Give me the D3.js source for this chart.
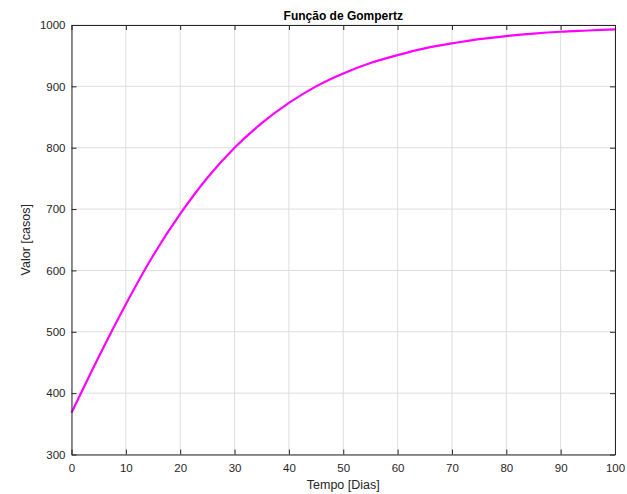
<!DOCTYPE html>
<html>
<head>
<meta charset="utf-8">
<script src="https://cdn.jsdelivr.net/npm/d3@7"></script>
<style>
  html, body { margin: 0; padding: 0; background: #fff; }
  svg { display: block; font-family: "Liberation Sans", Arial, Helvetica, sans-serif; }
</style>
</head>
<body>
<svg id="chart" width="627" height="494"></svg>
<script>
// Gompertz curve sampled every 5 days
const days = [0, 5, 10, 15, 20, 25, 30, 35, 40, 45, 50, 55, 60, 65, 70, 75, 80, 85, 90, 95, 100];
const cases = [368, 459, 545, 624, 692, 751, 800, 840, 873, 900, 921, 938, 951, 962, 970, 977, 982, 986, 989, 991, 993];
const xTicks = [0, 10, 20, 30, 40, 50, 60, 70, 80, 90, 100];
const yTicks = [300, 400, 500, 600, 700, 800, 900, 1000];

const svg = d3.select("#chart");
const m = { left: 71.5, right: 615, top: 25, bottom: 454.5 };
const x = d3.scaleLinear().domain([0, 100]).range([m.left, m.right]);
const y = d3.scaleLinear().domain([300, 1000]).range([m.bottom, m.top]);
const axisColor = "#262626";
const tickLen = 5;

// grid
const grid = svg.append("g");
grid.selectAll(".gx").data(xTicks).join("line")
  .attr("x1", d => x(d)).attr("x2", d => x(d))
  .attr("y1", m.top).attr("y2", m.bottom)
  .attr("stroke", "#dedede").attr("stroke-width", 1);
grid.selectAll(".gy").data(yTicks).join("line")
  .attr("y1", d => y(d)).attr("y2", d => y(d))
  .attr("x1", m.left).attr("x2", m.right)
  .attr("stroke", "#dedede").attr("stroke-width", 1);

// curve
const line = d3.line().x((d, i) => x(days[i])).y(d => y(d)).curve(d3.curveMonotoneX);
svg.append("path").datum(cases)
  .attr("d", line)
  .attr("fill", "none")
  .attr("stroke", "#ff00ff")
  .attr("stroke-width", 2.2);

// axes: inward ticks on all four sides
const fmt = d3.format("d");
const axBottom = svg.append("g").attr("transform", `translate(0,${m.bottom})`)
  .call(d3.axisBottom(x).tickValues(xTicks).tickFormat(fmt).tickSizeInner(-tickLen).tickSizeOuter(0).tickPadding(9));
const axTop = svg.append("g").attr("transform", `translate(0,${m.top})`)
  .call(d3.axisTop(x).tickValues(xTicks).tickFormat("").tickSizeInner(-tickLen).tickSizeOuter(0));
const axLeft = svg.append("g").attr("transform", `translate(${m.left},0)`)
  .call(d3.axisLeft(y).tickValues(yTicks).tickFormat(fmt).tickSizeInner(-tickLen).tickSizeOuter(0).tickPadding(6));
const axRight = svg.append("g").attr("transform", `translate(${m.right},0)`)
  .call(d3.axisRight(y).tickValues(yTicks).tickFormat("").tickSizeInner(-tickLen).tickSizeOuter(0));

[axBottom, axTop, axLeft, axRight].forEach(g => {
  g.select(".domain").attr("stroke", axisColor).attr("stroke-width", 1);
  g.selectAll(".tick line").attr("stroke", axisColor);
  g.selectAll(".tick text").attr("fill", axisColor).attr("font-size", 11.5)
    .attr("font-family", "'Liberation Sans', Arial, Helvetica, sans-serif");
});

// labels
svg.append("text").attr("x", (m.left + m.right) / 2).attr("y", 20)
  .attr("text-anchor", "middle").attr("font-size", 12).attr("font-weight", "bold")
  .attr("fill", "#000").text("Função de Gompertz");
svg.append("text").attr("x", (m.left + m.right) / 2).attr("y", 489)
  .attr("text-anchor", "middle").attr("font-size", 12.5).attr("fill", axisColor)
  .text("Tempo [Dias]");
svg.append("text").attr("transform", `translate(30,${(m.top + m.bottom) / 2}) rotate(-90)`)
  .attr("text-anchor", "middle").attr("font-size", 12.5).attr("fill", axisColor)
  .text("Valor [casos]");
</script>
</body>
</html>
